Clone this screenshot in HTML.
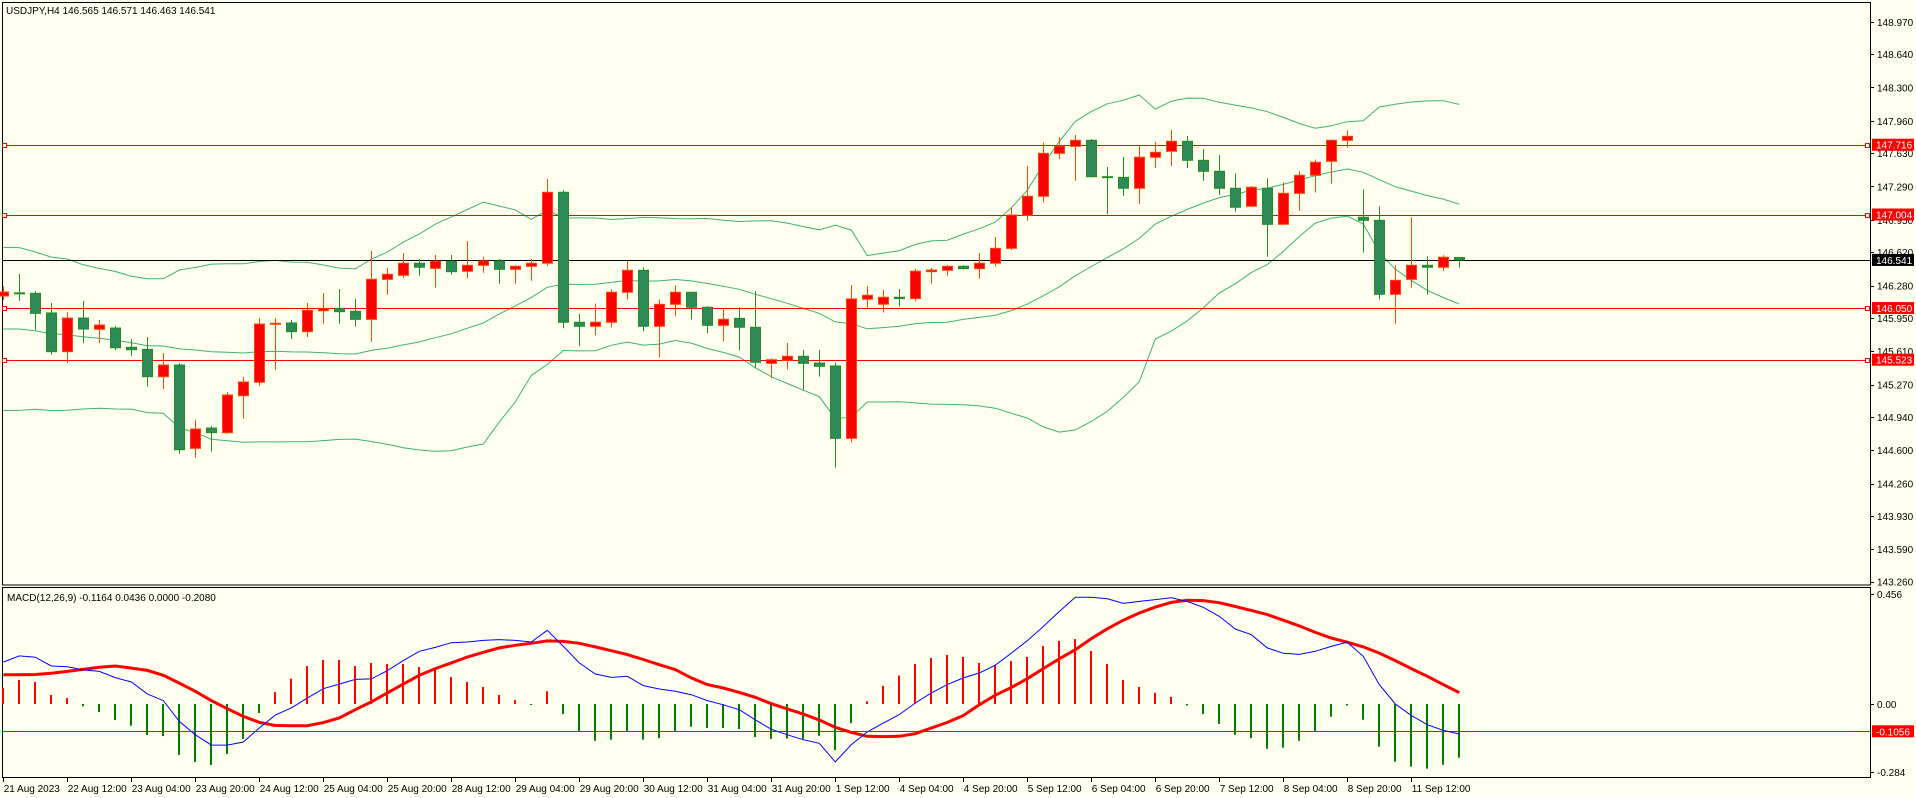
<!DOCTYPE html>
<html><head><meta charset="utf-8">
<style>
html,body{margin:0;padding:0;background:#FFFFF0;}
svg{display:block;font-family:"Liberation Sans",sans-serif;font-size:10px;}
</style></head>
<body>
<svg id="chart" width="1916" height="798" viewBox="0 0 1916 798">
<rect x="0" y="0" width="1916" height="798" fill="#FFFFF0"/>
<rect x="2.5" y="2.5" width="1868" height="582.5" fill="none" stroke="#000" stroke-width="1"/>
<rect x="2.5" y="587.5" width="1868" height="190" fill="none" stroke="#000" stroke-width="1"/>
<text x="6" y="14" fill="#000">USDJPY,H4  146.565 146.571 146.463 146.541</text>
<text x="7" y="601" fill="#000">MACD(12,26,9) -0.1164 0.0436 0.0000 -0.2080</text>
<g id="bands"></g><g id="levels"></g><g id="candles"></g><g id="macd"></g><g id="axes"></g>
</svg>
<script>
const openP=[146.173,146.205,146.200,146.000,145.605,145.948,145.833,145.846,145.650,145.629,
145.350,145.469,144.619,144.826,144.779,145.156,145.293,145.884,145.898,145.809,
146.023,146.047,146.017,145.935,146.343,146.384,146.507,146.455,146.527,146.425,
146.486,146.530,146.445,146.476,146.507,147.231,145.905,145.864,145.905,146.211,
146.435,145.864,146.088,146.211,146.058,145.874,145.945,145.854,145.486,145.517,
145.558,145.489,145.459,144.721,146.140,146.089,146.160,146.147,146.421,146.435,
146.476,146.452,146.507,146.659,146.996,147.190,147.628,147.700,147.761,147.390,
147.383,147.272,147.588,147.649,147.751,147.557,147.445,147.272,147.088,147.272,
146.904,147.220,147.404,147.547,147.761,146.976,146.945,146.190,146.343,146.486,
146.466,146.565];
const highP=[146.275,146.397,146.224,146.101,146.010,146.122,145.928,145.867,145.734,145.755,
145.592,145.490,144.911,144.847,145.194,145.347,145.948,145.948,145.928,146.101,
146.204,146.244,146.142,146.632,146.459,146.612,146.550,146.591,146.591,146.734,
146.571,146.550,146.486,146.550,147.366,147.251,145.989,146.098,146.241,146.533,
146.466,146.139,146.282,146.214,146.070,146.047,146.058,146.221,145.537,145.693,
145.622,145.622,145.493,146.285,146.275,146.235,146.245,146.450,146.459,146.486,
146.486,146.612,146.775,147.074,147.499,147.737,147.795,147.815,147.774,147.489,
147.591,147.703,147.744,147.866,147.805,147.672,147.611,147.424,147.295,147.373,
147.333,147.445,147.567,147.771,147.863,147.261,147.088,146.486,146.976,146.578,
146.588,146.571];
const lowP=[146.132,146.125,145.826,145.574,145.489,145.693,145.693,145.622,145.564,145.248,
145.224,144.564,144.524,144.585,144.768,144.921,145.258,145.418,145.734,145.755,
145.890,145.890,145.860,145.707,146.186,146.357,146.380,146.258,146.390,146.353,
146.410,146.298,146.298,146.329,146.482,145.844,145.660,145.772,145.854,146.139,
145.813,145.548,145.966,145.935,145.793,145.711,145.619,145.436,145.333,145.425,
145.214,145.350,144.422,144.677,146.052,146.003,146.065,146.116,146.299,146.380,
146.445,146.349,146.472,146.642,146.941,147.125,147.570,147.349,147.380,147.009,
147.193,147.111,147.478,147.499,147.478,147.349,147.203,147.033,147.078,146.574,
146.904,147.043,147.227,147.319,147.686,146.615,146.139,145.890,146.258,146.190,
146.425,146.463];
const closeP=[146.214,146.200,145.996,145.605,145.948,145.836,145.877,145.645,145.625,145.350,
145.469,144.605,144.816,144.779,145.163,145.296,145.887,145.895,145.809,146.027,
146.047,146.013,145.935,146.343,146.394,146.507,146.466,146.527,146.421,146.486,
146.530,146.445,146.476,146.507,147.231,145.905,145.864,145.905,146.211,146.435,
145.864,146.088,146.211,146.058,145.874,145.935,145.854,145.497,145.523,145.558,
145.486,145.456,144.721,146.143,146.180,146.160,146.147,146.426,146.438,146.476,
146.452,146.507,146.659,146.999,147.190,147.628,147.700,147.761,147.390,147.383,
147.272,147.588,147.639,147.751,147.557,147.445,147.272,147.078,147.282,146.904,
147.220,147.404,147.537,147.761,147.802,146.945,146.190,146.333,146.486,146.466,
146.568,146.541];
const priorCloses=[146.21,146.33,146.25,146.12,146.29,146.17,146.04,146.12,145.96,145.54,145.20,145.03,145.12,145.28,145.45,145.62,145.79,145.96,146.04];
const macdHist=[0.062,0.093,0.085,0.035,0.023,-0.009,-0.031,-0.062,-0.084,-0.120,
-0.124,-0.197,-0.224,-0.236,-0.193,-0.135,-0.035,0.046,0.098,0.147,
0.170,0.170,0.147,0.159,0.155,0.155,0.143,0.135,0.104,0.085,
0.066,0.035,0.015,-0.004,0.049,-0.039,-0.106,-0.142,-0.138,-0.106,
-0.138,-0.132,-0.106,-0.088,-0.093,-0.093,-0.097,-0.128,-0.135,-0.134,
-0.135,-0.123,-0.178,-0.074,0.010,0.070,0.110,0.155,0.178,0.190,
0.182,0.159,0.151,0.166,0.182,0.224,0.244,0.251,0.205,0.155,
0.093,0.066,0.043,0.027,-0.006,-0.039,-0.077,-0.119,-0.132,-0.173,
-0.169,-0.142,-0.106,-0.049,-0.006,-0.061,-0.165,-0.223,-0.242,-0.250,
-0.235,-0.208];
const macdMain=[0.162,0.186,0.181,0.147,0.144,0.132,0.126,0.102,0.085,0.039,
0.013,-0.067,-0.119,-0.159,-0.159,-0.147,-0.093,-0.043,-0.015,0.023,
0.059,0.077,0.095,0.097,0.129,0.168,0.204,0.219,0.237,0.240,
0.246,0.249,0.246,0.240,0.285,0.223,0.159,0.116,0.103,0.107,
0.071,0.058,0.049,0.036,0.013,-0.003,-0.022,-0.061,-0.098,-0.119,
-0.138,-0.152,-0.224,-0.157,-0.108,-0.074,-0.041,0.004,0.043,0.075,
0.101,0.120,0.150,0.197,0.245,0.300,0.358,0.413,0.413,0.407,
0.389,0.397,0.404,0.411,0.397,0.374,0.339,0.290,0.268,0.217,
0.196,0.192,0.204,0.223,0.239,0.184,0.075,0.000,-0.044,-0.080,
-0.102,-0.116];
const macdSignal=[0.113,0.113,0.114,0.119,0.126,0.134,0.142,0.147,0.139,0.130,
0.111,0.081,0.049,0.013,-0.018,-0.048,-0.071,-0.083,-0.084,-0.084,
-0.072,-0.054,-0.022,0.008,0.043,0.077,0.111,0.137,0.159,0.182,
0.200,0.217,0.227,0.235,0.244,0.242,0.235,0.221,0.206,0.191,
0.172,0.152,0.133,0.101,0.075,0.062,0.045,0.026,0.001,-0.019,
-0.039,-0.062,-0.090,-0.110,-0.125,-0.126,-0.125,-0.115,-0.093,-0.071,
-0.045,-0.003,0.034,0.064,0.098,0.137,0.175,0.210,0.253,0.291,
0.324,0.352,0.375,0.393,0.401,0.400,0.392,0.377,0.362,0.346,
0.324,0.302,0.277,0.255,0.239,0.221,0.197,0.168,0.137,0.107,
0.075,0.044];
const dateLabels=["21 Aug 2023","22 Aug 12:00","23 Aug 04:00","23 Aug 20:00","24 Aug 12:00","25 Aug 04:00","25 Aug 20:00","28 Aug 12:00","29 Aug 04:00","29 Aug 20:00","30 Aug 12:00","31 Aug 04:00","31 Aug 20:00","1 Sep 12:00","4 Sep 04:00","4 Sep 20:00","5 Sep 12:00","6 Sep 04:00","6 Sep 20:00","7 Sep 12:00","8 Sep 04:00","8 Sep 20:00","11 Sep 12:00"];
const priceTicks=[148.970,148.640,148.300,147.960,147.630,147.290,146.950,146.620,146.280,145.950,145.610,145.270,144.940,144.600,144.260,143.930,143.590,143.260];
const redLevels=[147.716,147.004,146.050,145.523];
const bidPrice=[146.541];
const macdTicks=[0.456,0.00,-0.284];
const macdLevel=[-0.1056];

const NS="http://www.w3.org/2000/svg";
function mk(tag,attrs,parent){const e=document.createElementNS(NS,tag);for(const k in attrs)e.setAttribute(k,attrs[k]);parent.appendChild(e);return e;}
function xOf(i){return 3.3+i*16;}
function yP(p){return 20.8+(148.98-p)*98.04;}
function yM(v){return 704-v*258.5;}
const gB=document.getElementById('bands'),gL=document.getElementById('levels'),gC=document.getElementById('candles'),gM=document.getElementById('macd'),gA=document.getElementById('axes');

const all=priorCloses.concat(closeP);
const up=[],mid=[],lo=[];
for(let i=0;i<closeP.length;i++){const w=all.slice(i,i+20);const m=w.reduce((a,b)=>a+b,0)/20;const sd=Math.sqrt(w.reduce((a,b)=>a+(b-m)*(b-m),0)/20);mid.push(m);up.push(m+2*sd);lo.push(m-2*sd);}
[[up,'bollinger-upper'],[mid,'bollinger-middle'],[lo,'bollinger-lower']].forEach(([arr,name])=>{
  const pl=mk('polyline',{points:arr.map((v,i)=>xOf(i)+','+yP(v).toFixed(1)).join(' '),fill:'none',stroke:'#3CB371','stroke-width':1},gB);
  
  
});

redLevels.forEach(p=>{
  const y=Math.round(yP(p))+0.5;
  const ln=mk('line',{x1:3,x2:1870,y1:y,y2:y,stroke:'#FF0000','stroke-width':1},gL);
  
  
  const h1=mk('rect',{x:2.5,y:y-2,width:4,height:4,fill:'#FFFFF0',stroke:'#FF0000'},gL);
  
  
  const h2=mk('rect',{x:1865.5,y:y-2,width:4,height:4,fill:'#FFFFF0',stroke:'#FF0000'},gL);
  
  
});
bidPrice.forEach(p=>{
  const y=Math.round(yP(p))+0.5;
  const ln=mk('line',{x1:3,x2:1870,y1:y,y2:y,stroke:'#000','stroke-width':1},gL);
  
  
});

for(let i=0;i<closeP.length;i++){
  const o=openP[i],c=closeP[i],h=highP[i],l=lowP[i];
  const bull=c>=o;
  const x=Math.round(xOf(i))+0.5;
  const g=mk('g',{},gC);
  
  
  const wc=bull?'#FF4500':'#228B22';
  mk('line',{x1:x,x2:x,y1:yP(Math.max(h,o,c)),y2:yP(Math.min(l,o,c)),stroke:wc,'stroke-width':1},g);
  const t=yP(Math.max(o,c)),b=yP(Math.min(o,c));
  mk('rect',{x:x-5,y:t,width:10,height:Math.max(1,b-t),fill:bull?'#FF0000':'#2E8B57',stroke:wc,'stroke-width':1},g);
}

const z=yM(0);
for(let i=0;i<macdHist.length;i++){
  const v=macdHist[i];
  const r=mk('rect',{x:Math.round(xOf(i))-1,y:Math.min(z,yM(v)),width:2,height:Math.max(1,Math.abs(yM(v)-z)),fill:v>=0?'#FF0000':'#008000'},gM);
  
  
}
macdLevel.forEach(v=>{
  const y=Math.round(yM(v))+0.5;
  const ln=mk('line',{x1:3,x2:1870,y1:y,y2:y,stroke:'#FF0000','stroke-width':1},gM);
  
  
});
const sig=mk('polyline',{points:macdSignal.map((v,i)=>xOf(i)+','+yM(v).toFixed(1)).join(' '),fill:'none',stroke:'#FF0000','stroke-width':3},gM);


const mn=mk('polyline',{points:macdMain.map((v,i)=>xOf(i)+','+yM(v).toFixed(1)).join(' '),fill:'none',stroke:'#0000FF','stroke-width':1},gM);



priceTicks.forEach(p=>{
  const y=yP(p);
  mk('line',{x1:1870,x2:1874,y1:Math.round(y)+0.5,y2:Math.round(y)+0.5,stroke:'#000'},gA);
  const t=mk('text',{x:1877,y:y+4,fill:'#000'},gA);
  t.textContent=p.toFixed(3);
  
  
});
function boxLabel(y,txt,bg,name){
  mk('rect',{x:1872,y:y-6,width:42,height:12,fill:bg},gA);
  const t=mk('text',{x:1876,y:y+4,fill:'#fff'},gA);
  t.textContent=txt;
  
  
}
redLevels.forEach(p=>boxLabel(yP(p),p.toFixed(3),'#FF0000','level-price-label'));
bidPrice.forEach(p=>boxLabel(yP(p),p.toFixed(3),'#000','bid-price-label'));

macdTicks.forEach((v,k)=>{
  let y=yM(v);
  if(k===0)y=594; if(k===2)y=772;
  mk('line',{x1:1870,x2:1874,y1:Math.round(y)+0.5,y2:Math.round(y)+0.5,stroke:'#000'},gA);
  const t=mk('text',{x:1877,y:y+4,fill:'#000'},gA);
  t.textContent=v===0?'0.00':v.toFixed(3);
  
  
});
macdLevel.forEach(v=>boxLabel(yM(v),v.toFixed(4),'#FF0000','macd-level-label'));

dateLabels.forEach((d,k)=>{
  const x=2.7+64*k;
  mk('line',{x1:Math.round(x)+0.5,x2:Math.round(x)+0.5,y1:778,y2:782,stroke:'#000'},gA);
  const t=mk('text',{x:x+1,y:792,fill:'#000'},gA);
  t.textContent=d;
  
  
});
</script>
</body></html>
